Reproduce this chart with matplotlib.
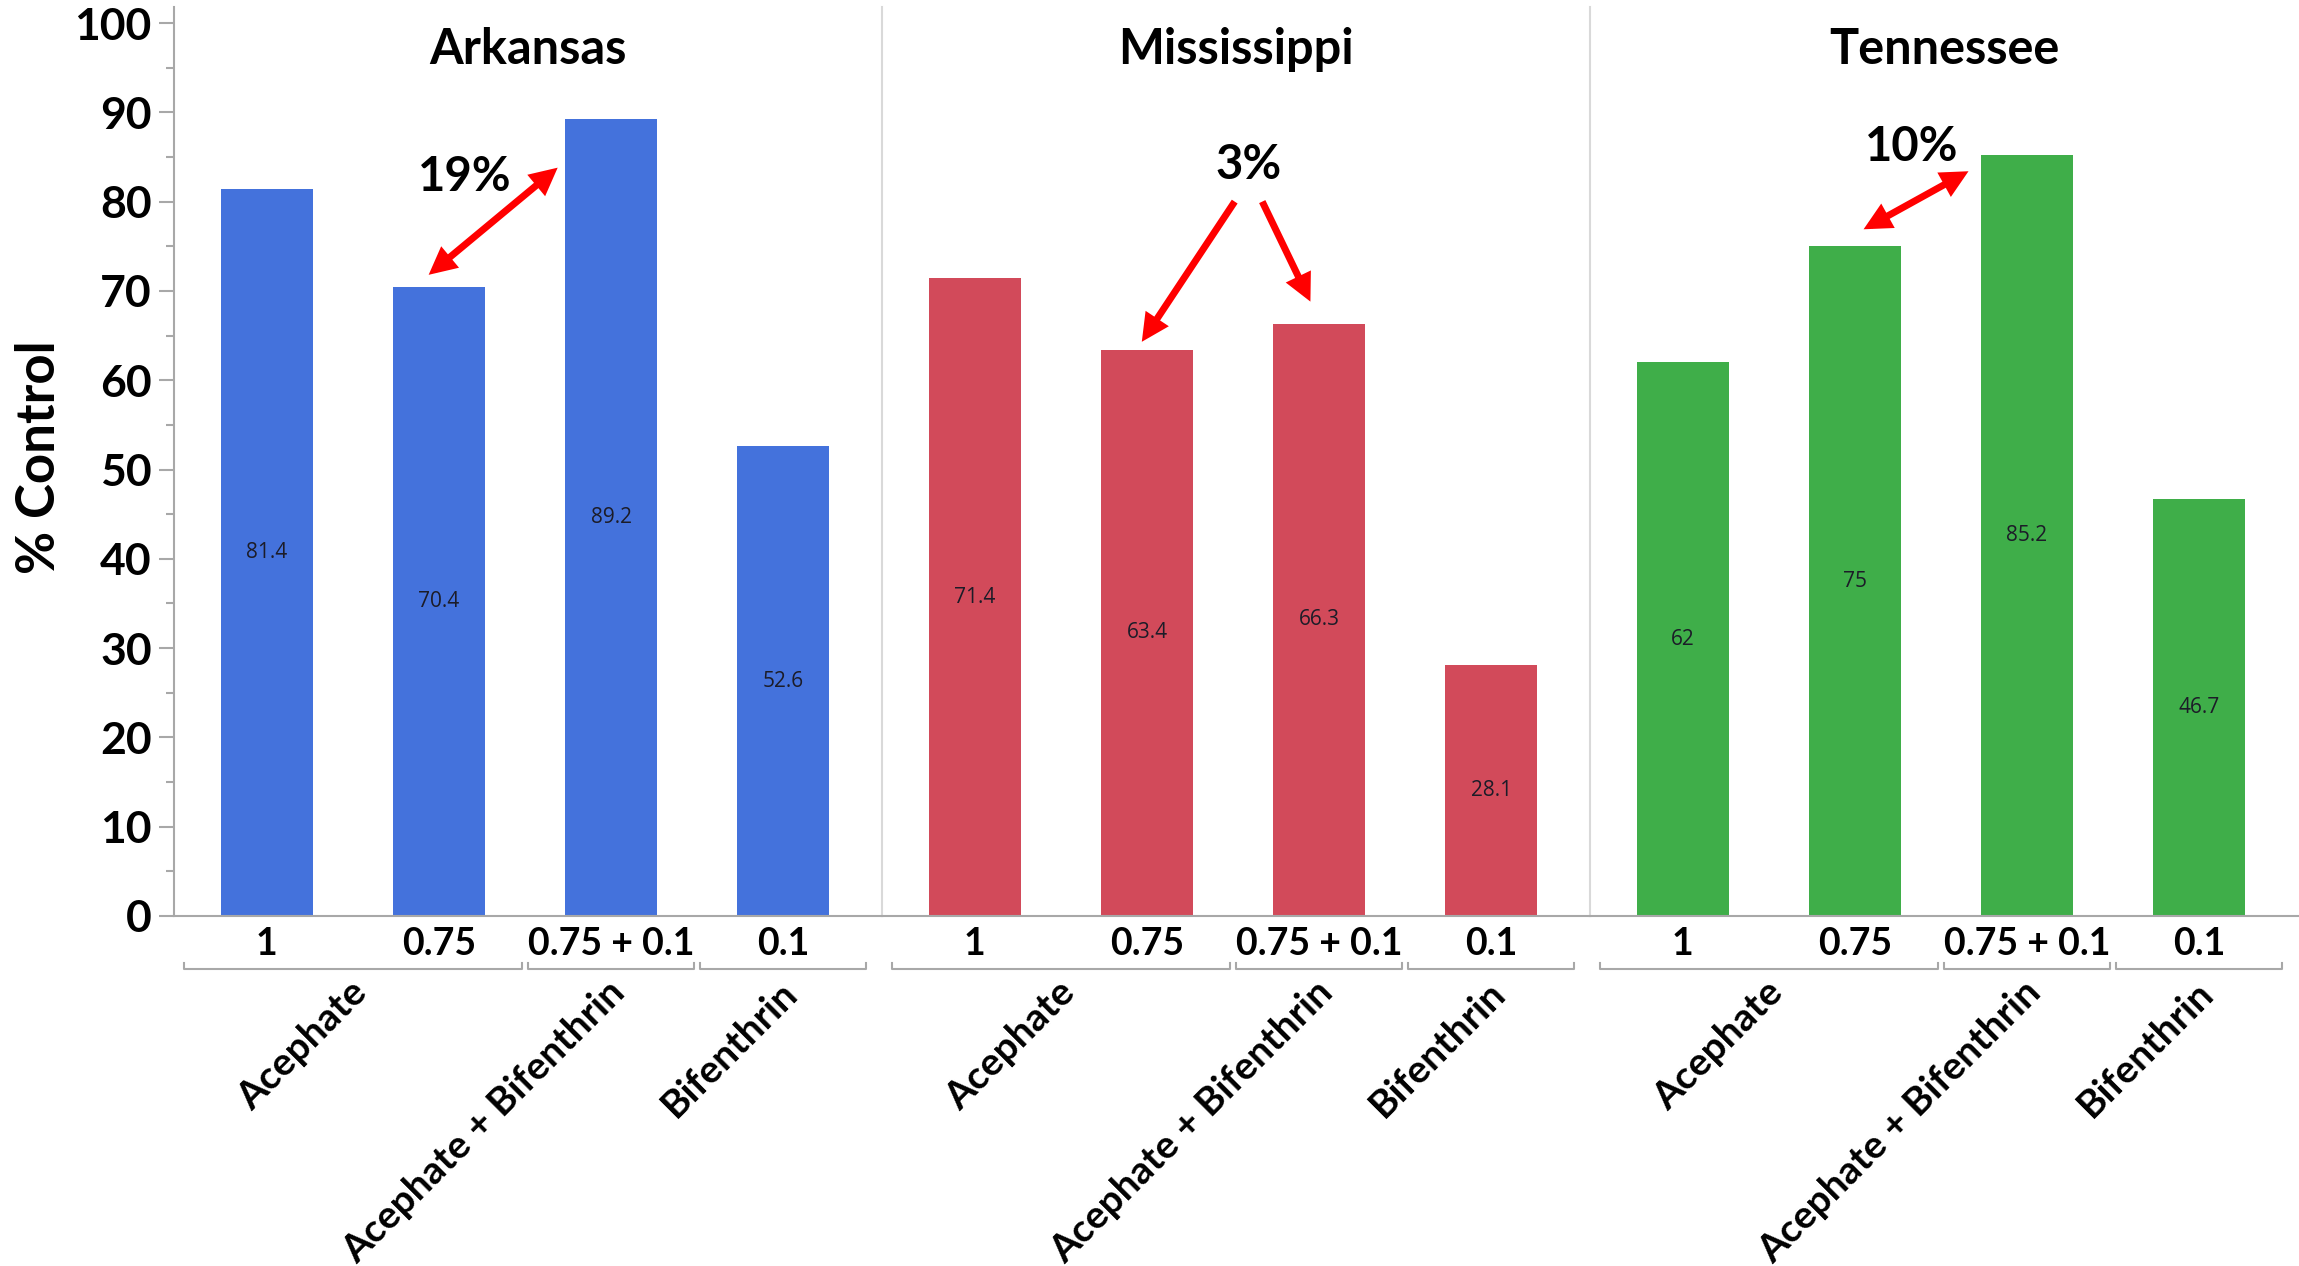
"""Bar chart of % control by state, rate and insecticide."""

import matplotlib.pyplot as plt
from matplotlib.patches import FancyArrowPatch
from matplotlib.transforms import blended_transform_factory

plt.rcParams["font.family"] = ["Lato", "DejaVu Sans"]

STATES = ["Arkansas", "Mississippi", "Tennessee"]
RATES = ["1", "0.75", "0.75 + 0.1", "0.1"]
arkansas = [81.4, 70.4, 89.2, 52.6]
mississippi = [71.4, 63.4, 66.3, 28.1]
tennessee = [62, 75, 85.2, 46.7]
# (label, first bar, last bar)
GROUPS = [("Acephate", 0, 1), ("Acephate + Bifenthrin", 2, 2), ("Bifenthrin", 3, 3)]

COULEURS = ["#4472dc", "#d24a5a", "#3fae49"]
ROUGE = "#ff0000"
GRIS_AXE = "#a8a8a8"
GRIS_SEP = "#d9d9d9"

# Difference callouts per state: text, text position, arrows (start, end, two heads)
CALLOUTS = [
    ("19%", (1.15, 82.8), [((0.94, 71.8), (1.69, 83.8), True)]),
    ("3%", (1.59, 84.1), [((1.51, 80.0), (0.97, 64.3), False),
                          ((1.67, 80.0), (1.95, 68.8), False)]),
    ("10%", (1.33, 86.1), [((1.05, 76.9), (1.66, 83.4), True)]),
]

W, H = 2299, 1266
fig = plt.figure(figsize=(W / 100, H / 100), dpi=100)

gauche, largeur, haut, bas = 174, 708, 7, 916
ymax = (bas - haut) / 8.93

for k, (etat, valeurs) in enumerate(zip(STATES, [arkansas, mississippi, tennessee])):
    ax = fig.add_axes([(gauche + k * largeur) / W, (H - bas) / H,
                       largeur / W, (bas - haut) / H])
    x = range(len(valeurs))
    barres = ax.bar(x, valeurs, width=0.535, color=COULEURS[k])
    ax.bar_label(barres, labels=[f"{v:g}" for v in valeurs], label_type="center",
                 fontsize=15, family="Open Sans", color="#1c1c28")

    ax.set_xlim(-0.54, 3.575)
    ax.set_ylim(0, ymax)
    ax.set_xticks(list(x), RATES, fontsize=27, fontweight="bold")
    ax.tick_params(axis="x", length=0, pad=8)

    for cote in ["top", "right"]:
        ax.spines[cote].set_visible(False)
    ax.spines["bottom"].set_color(GRIS_AXE)
    ax.spines["bottom"].set_linewidth(1.5)

    if k == 0:
        ticks = list(range(0, 101, 10))
        ax.set_yticks(ticks, [str(t) for t in ticks], fontsize=32, fontweight="bold")
        ax.set_yticks(range(5, 100, 10), minor=True)
        ax.tick_params(axis="y", which="major", length=11, width=1.5,
                       color=GRIS_AXE, pad=5)
        ax.tick_params(axis="y", which="minor", length=6, width=1.5, color=GRIS_AXE)
        ax.spines["left"].set_color(GRIS_AXE)
        ax.spines["left"].set_linewidth(1.5)
    else:
        ax.set_yticks([])
        ax.spines["left"].set_color(GRIS_SEP)
        ax.spines["left"].set_linewidth(1.5)

    ax.text(0.5, 0.953, etat, transform=ax.transAxes, ha="center", va="center",
            fontsize=35, fontweight="bold")

    # Brackets and rotated group names under the rate labels
    trans = blended_transform_factory(ax.transData, ax.transAxes)
    yb, dy = -0.0583, 0.0066
    for nom, i, j in GROUPS:
        x0, x1 = i - 0.48, j + 0.48
        ax.plot([x0, x0, x1, x1], [yb + dy, yb, yb, yb + dy], transform=trans,
                clip_on=False, color=GRIS_AXE, lw=1.5)
        ax.text((i + j) / 2 + 0.12, yb - 0.006, nom, transform=trans, rotation=45,
                ha="right", va="top", fontsize=28, fontweight="bold")

    texte, pos, fleches = CALLOUTS[k]
    ax.text(*pos, texte, ha="center", va="center", fontsize=34, fontweight="bold")
    for debut, fin, double in fleches:
        style = "<|-|>" if double else "-|>"
        ax.add_patch(FancyArrowPatch(
            debut, fin, arrowstyle=f"{style},head_length=12,head_width=6",
            mutation_scale=1, lw=5, color=ROUGE, shrinkA=0, shrinkB=0,
            joinstyle="miter", capstyle="butt"))

fig.text(40 / W, 1 - 457 / H, "% Control", rotation=90, ha="center", va="center",
         fontsize=38, fontweight="bold")

fig.savefig("out.png", dpi=100)
